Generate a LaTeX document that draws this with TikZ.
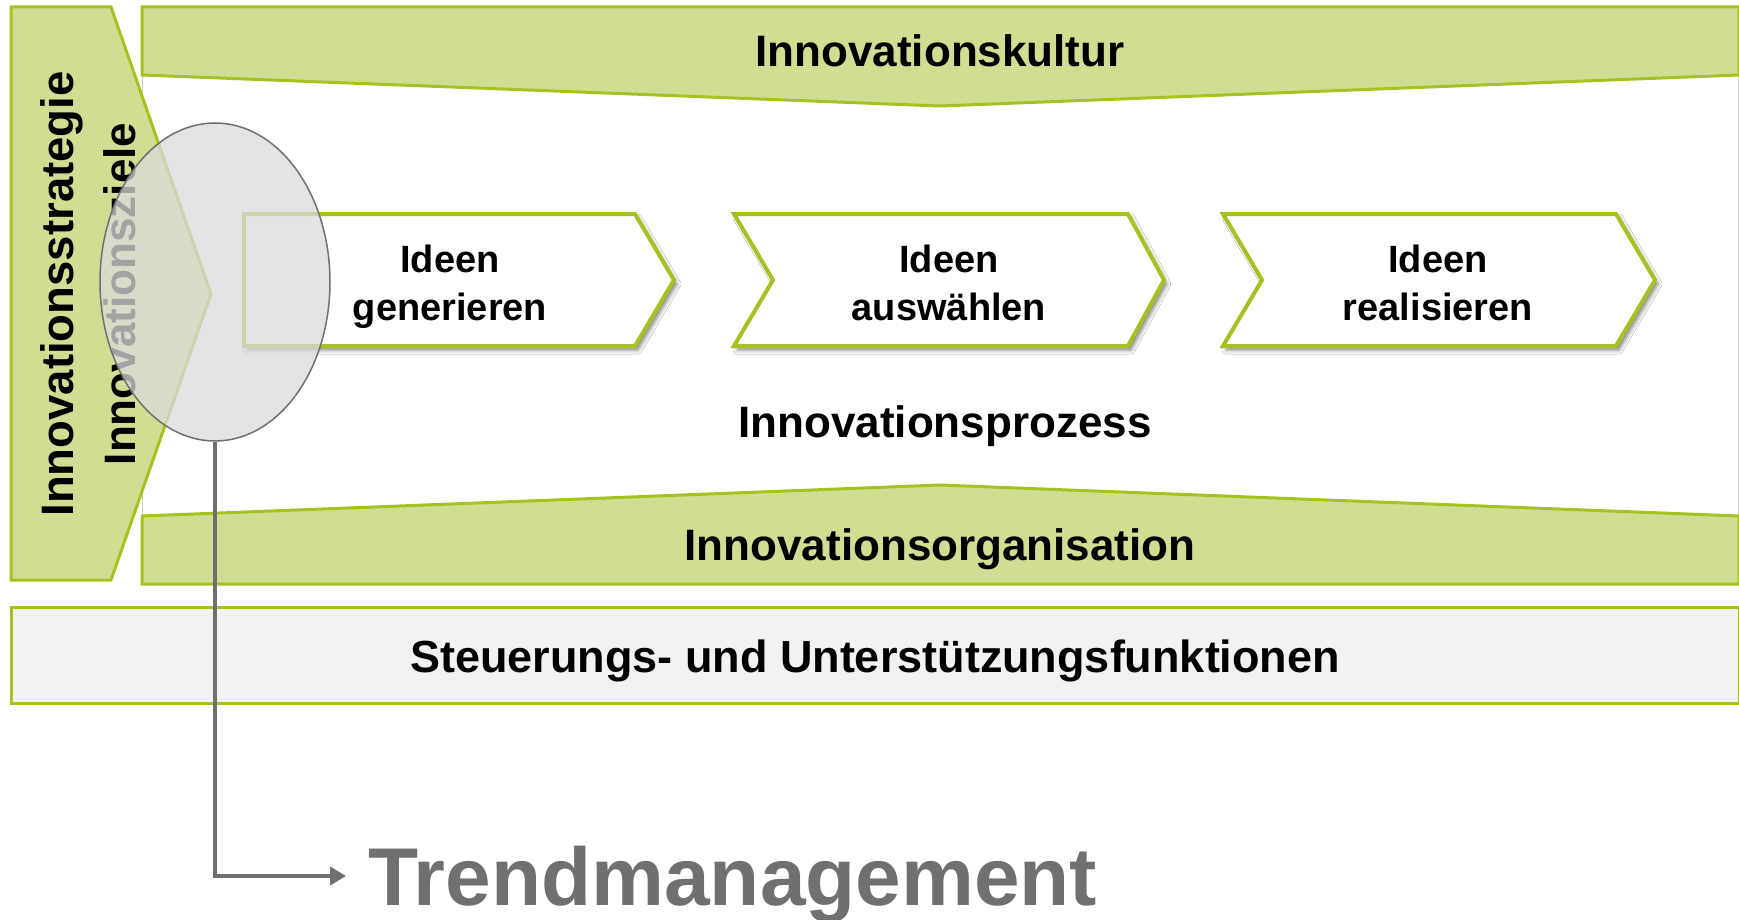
\documentclass[tikz,border=0pt]{standalone}
\usepackage{fontspec}
\setmainfont{Liberation Sans}
\usetikzlibrary{shapes.geometric,arrows.meta,shadows.blur}
\definecolor{gfill}{RGB}{208,222,147}
\definecolor{gline}{RGB}{164,194,32}
\definecolor{boxgray}{RGB}{242,242,242}
\definecolor{dgray}{RGB}{112,112,112}
\definecolor{ellfill}{RGB}{218,218,218}
\begin{document}
\begin{tikzpicture}[x=1pt,y=-1pt,
  band/.style={fill=gfill,draw=gline,line width=3pt,line join=miter},
  chev/.style={fill=white,draw=gline,line width=4pt,line join=miter,
    blur shadow={shadow xshift=3pt,shadow yshift=-4pt,shadow blur radius=4pt,shadow opacity=50}},
  lbl/.style={font=\bfseries\fontsize{44}{52}\selectfont,inner sep=0pt},
  idea/.style={font=\bfseries\fontsize{38}{48}\selectfont,align=center,inner sep=0pt},
  conn/.style={draw=dgray,line width=4.5pt,-{Triangle[length=16pt,width=18pt]}}]
\useasboundingbox (0,0) rectangle (1739,920);
% white middle area
\path[fill=white,draw=black!20,line width=1pt] (142,75) rectangle (1738,516);
% bands
\path[band] (142,7) -- (1739,7) -- (1739,75) -- (940,106) -- (142,75) -- cycle;
\path[band] (142,516) -- (940,485) -- (1739,516) -- (1739,584) -- (142,584) -- cycle;
\path[fill=boxgray,draw=gline,line width=3pt] (11,607) rectangle (1739,703);
% left pentagon
\path[band] (11,7) -- (111,7) -- (211,294) -- (111,580) -- (11,580) -- cycle;
% chevrons
\path[chev] (244,214) -- (635,214) -- (674,280) -- (635,346) -- (244,346) -- cycle;
\path[chev] (734,214) -- (1128,214) -- (1164,280) -- (1128,346) -- (734,346) -- (773,280) -- cycle;
\path[chev] (1223,214) -- (1616,214) -- (1655,280) -- (1616,346) -- (1223,346) -- (1262,280) -- cycle;
% texts
\node[lbl] (kultur) at (940,51) {Innovationskultur};
\node[lbl] (prozess) at (945,426) {Innovationsprozess};
\node[lbl] (org) at (940,549) {Innovationsorganisation};
\node[lbl,font=\bfseries\fontsize{45}{52}\selectfont] (steuer) at (875,661) {Steuerungs- und Unterstützungsfunktionen};
\node[idea] (gen) at (450,287) {Ideen\\generieren};
\node[idea] (aus) at (949,283) {Ideen\\auswählen};
\node[idea] (real) at (1438,283) {Ideen\\realisieren};
\node[lbl,font=\bfseries\fontsize{45.5}{52}\selectfont,rotate=90,anchor=base] (strat) at (73,294) {Innovationsstrategie};
\node[lbl,rotate=90,anchor=base] (ziele) at (135,294) {Innovationsziele};
% ellipse
\node[ellipse,draw=dgray,line width=1.5pt,fill=ellfill,fill opacity=0.75,
  minimum width=230pt,minimum height=318pt,inner sep=0pt] (ell) at (215,282) {};
% trend management
\node[font=\bfseries\fontsize{82}{90}\selectfont,text=dgray,anchor=west,inner sep=0pt,
  text height=59pt,text depth=0pt] (trend) at (368,876) {Trendmanagement};
\draw[conn] (ell.south) |- ([xshift=-22pt]trend.west);
\end{tikzpicture}
\end{document}
